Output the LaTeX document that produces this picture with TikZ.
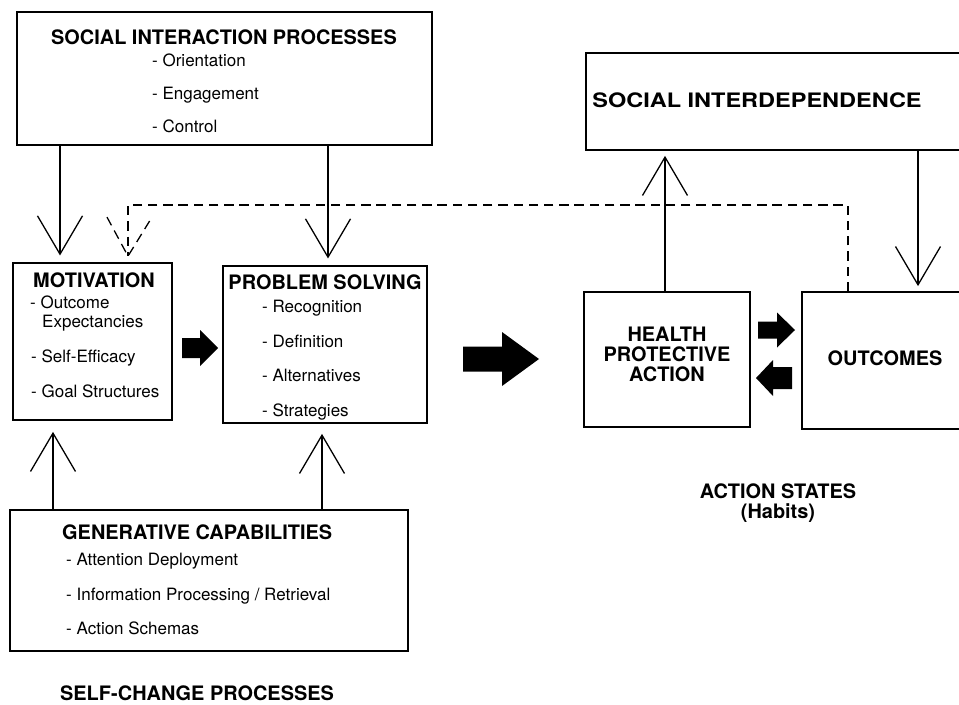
\documentclass[tikz,border=0pt]{standalone}
\usepackage{fontspec}
\setmainfont{TeX Gyre Heros}
\usepackage{tikz}
\usetikzlibrary{arrows.meta}
\usetikzlibrary{calc}
\usetikzlibrary{fit}
\newcommand{\panel}[5]{ \node[panelbox, fit={( #2 , #3 ) ( #4 , #5 )}] (#1) {};}
\newcommand{\itemline}[4]{\node[itemtext] (#1) at ( #2 , #3 ) {#4};}
\newcommand{\fatarrow}[6]{ \fill ( #1 , {#2-#5} ) -- ( #3 , {#2-#5} ) -- ( #3 , {#2-#6} ) -- ( #4 , #2 ) -- ( #3 , {#2+#6} ) -- ( #3 , {#2+#5} ) -- ( #1 , {#2+#5} ) -- cycle;}
\tikzset{
  panelbox/.style={draw, line width=1.5pt, inner sep=0pt},
  headtext/.style={font=\bfseries\fontsize{17}{17}\selectfont, inner sep=0pt, anchor=base},
  itemtext/.style={font=\fontsize{14.5}{14.5}\selectfont, inner sep=0pt, anchor=base west},
  linkarrow/.style={line width=1.1pt, -{Straight Barb[length=11.5mm, width=13.5mm]}, shorten >=2mm},
  dashlink/.style={line width=1.1pt, dash pattern=on 8pt off 5pt}
}

\begin{document}
\begin{tikzpicture}[x=0.03cm, y=-0.03cm]
\useasboundingbox (0,0) rectangle (959,704);
\clip (0,0) rectangle (959,704);
% boxes
\panel{sip}{17}{12}{432}{145}
\panel{sid}{586}{53}{990}{150}
\panel{mot}{13}{263}{172}{420}
\panel{ps}{223}{266}{427}{423}
\panel{gen}{10}{510}{408}{651}
\panel{hpa}{584}{292}{750}{427}
\panel{out}{802}{292}{990}{429}
% social interaction processes
\node[headtext] (sip-title) at (224,45) {SOCIAL INTERACTION PROCESSES};
\itemline{orient}{152}{67}{- Orientation}
\itemline{engage}{152}{100}{- Engagement}
\itemline{control}{152}{133}{- Control}
% social interdependence
\node[headtext, xscale=1.18] (sid-title) at (757,108) {SOCIAL INTERDEPENDENCE};
% motivation
\node[headtext] (mot-title) at (94,287) {MOTIVATION};
\itemline{outcome}{30}{308}{- Outcome}
\itemline{expect}{42}{327}{Expectancies}
\itemline{efficacy}{31}{362}{- Self-Efficacy}
\itemline{goals}{31}{397}{- Goal Structures}
% problem solving
\node[headtext] (ps-title) at (325,289) {PROBLEM SOLVING};
\itemline{recog}{262}{312}{- Recognition}
\itemline{defin}{262}{347}{- Definition}
\itemline{altern}{262}{381}{- Alternatives}
\itemline{strat}{262}{416}{- Strategies}
% generative capabilities
\node[headtext, anchor=base west] (gen-title) at (62,539) {GENERATIVE CAPABILITIES};
\itemline{attend}{66}{565}{- Attention Deployment}
\itemline{inform}{66}{600}{- Information Processing / Retrieval}
\itemline{schema}{66}{634}{- Action Schemas}
% action states
\node[headtext, anchor=center, align=center, font=\bfseries\fontsize{17}{17}\selectfont] (hpa-title) at (667,354) {HEALTH\\PROTECTIVE\\ACTION};
\node[headtext] (out-title) at (885,365) {OUTCOMES};
\node[headtext, anchor=center, align=center] (states) at (778,503) {ACTION STATES\\(Habits)};
\node[headtext] (selfchange) at (197,700) {SELF-CHANGE PROCESSES};
% fat arrows
\fatarrow{182}{348}{200}{218}{10}{18}
\fatarrow{463}{359}{502}{539}{12.5}{27}
\fatarrow{758}{330}{777}{795}{8.5}{17.5}
\fatarrow{792}{378}{773}{756}{11}{18}
% link columns
\coordinate (colA) at (60,0);
\coordinate (colB) at (328,0);
\coordinate (colC) at (53,0);
\coordinate (colD) at (322,0);
\coordinate (colE) at (665,0);
\coordinate (colF) at (918,0);
\coordinate (colG) at (848,0);
\coordinate (colH) at (128,0);
\coordinate (rowD) at (0,205);
% links
\draw[linkarrow] (sip.south -| colA) -- (mot.north -| colA);
\draw[linkarrow] (sip.south -| colB) -- (ps.north -| colB);
\draw[linkarrow, shorten >=3.3mm] (gen.north -| colC) -- (mot.south -| colC);
\draw[linkarrow, shorten >=3mm] (gen.north -| colD) -- (ps.south -| colD);
\draw[linkarrow, shorten >=1.5mm] (hpa.north -| colE) -- (sid.south -| colE);
\draw[linkarrow, shorten >=1.5mm] (sid.south -| colF) -- (out.north -| colF);
% feedback
\coordinate[yshift=1.8mm] (dtip) at (mot.north -| colH);
\draw[dashlink] (out.north -| colG) -- (colG |- rowD) -- (colH |- rowD) -- (dtip);
\draw[dashlink] ($(dtip)+(-21,-39)$) -- (dtip) -- ($(dtip)+(24,-39)$);
\end{tikzpicture}
\end{document}
